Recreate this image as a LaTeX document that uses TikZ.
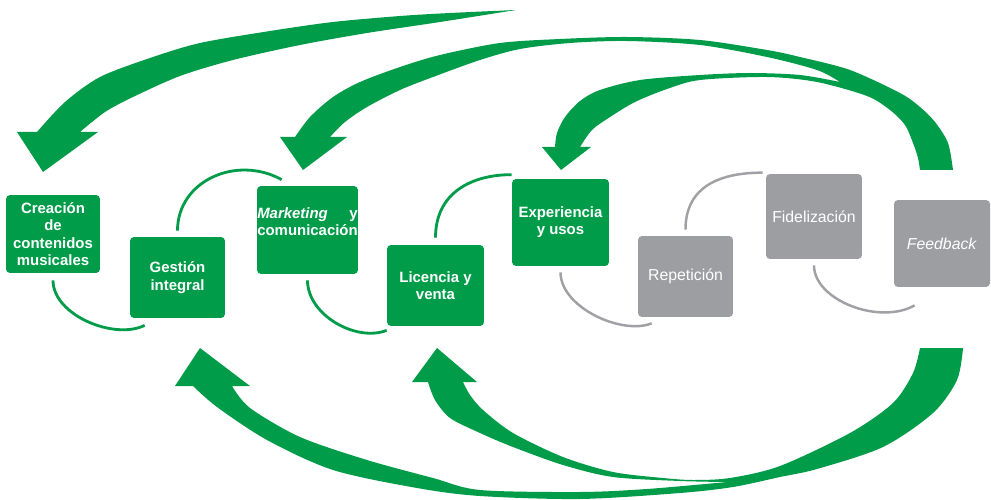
\documentclass[tikz,border=0pt]{standalone}
\usepackage{fontspec}
\setmainfont{Liberation Sans}
\usepackage{calc}
\usetikzlibrary{calc}
\definecolor{gr}{RGB}{0,156,73}
\definecolor{gy}{RGB}{157,158,162}
\definecolor{gyl}{RGB}{160,161,165}
\tikzset{
  gbox/.style={fill=gr, rounded corners=2.3pt, text=white, align=center, inner sep=0pt,
    font=\fontsize{8.5}{9.8}\selectfont\bfseries},
  ybox/.style={fill=gy, rounded corners=2.3pt, text=white, align=center, inner sep=0pt,
    font=\fontsize{9}{10.5}\selectfont},
  gline/.style={draw=gr, line width=1.6pt},
  yline/.style={draw=gyl, line width=1.4pt},
  arrowfill/.style={fill=gr},
}
\begin{document}
\begin{tikzpicture}[x=0.02cm,y=-0.02cm]
\useasboundingbox (0,0) rectangle (991,500);
\fill[white] (0,0) rectangle (991,500);

% big arrow A (top, to Creacion)
\fill[arrowfill]
 plot[smooth] coordinates {(516,10) (450,13) (400,16) (333,22) (270,31) (200,43) (150,58) (100,77) (65,102) (37,132)}
 -- (17,132) -- (43,172) -- (98,132) -- (80,132)
 -- plot[smooth] coordinates {(80,132) (105,112) (133,97) (180,76) (233,60) (300,45) (367,33) (440,22) (516,10)}
 -- cycle;

% top group from Feedback: arrows B and C
\fill[arrowfill]
 plot[smooth] coordinates {(920,170) (918,158) (913,143) (905,125) (890,110) (867,96) (817,82) (767,77) (700,80) (667,89) (635,102) (610,117) (592,130) (580,147)}
 -- (591,147) -- (561,170) -- (542,147) -- (555,147)
 -- plot[smooth] coordinates {(555,147) (557,133) (565,117) (580,101) (600,90) (640,80) (700,75) (750,73) (800,75) (840,82)}
 -- plot[smooth] coordinates {(840,82) (817,70) (767,57) (700,45) (627,41) (570,43) (520,49) (480,60) (433,77) (400,90) (367,107) (345,122) (330,137)}
 -- (347,137) -- (303,170) -- (280,137) -- (295,137)
 -- plot[smooth] coordinates {(295,137) (310,117) (333,97) (360,82) (400,67) (440,55) (500,43) (560,39) (627,37) (700,40) (767,50) (800,57) (850,70) (900,93) (920,107) (935,122) (948,143) (953,170)}
 -- cycle;

% bottom group from Feedback: arrows D and E
\fill[arrowfill]
 plot[smooth] coordinates {(920,348) (913,373) (893,403) (850,433) (780,466) (730,478) (693,480) (663,478) (613,472) (563,457) (513,433) (483,410) (470,395) (463,382)}
 -- (477,382) -- (437,348) -- (412,382) -- (428,382)
 -- plot[smooth] coordinates {(428,382) (435,400) (450,418) (480,433) (513,447) (563,465) (613,477) (680,481) (727,482)}
 -- plot[smooth] coordinates {(727,482) (647,489) (580,492) (480,490) (433,478) (367,460) (300,437) (250,408) (232,386)}
 -- (250,386) -- (200,348) -- (175,386) -- (193,386)
 -- plot[smooth] coordinates {(193,386) (217,407) (267,440) (333,470) (417,488) (480,496) (580,499) (680,493) (733,487) (780,477) (817,469) (883,447) (933,413) (957,380) (963,348)}
 -- cycle;

% boxes
\node[gbox, minimum width=1.88cm, minimum height=1.56cm] (crea) at (53,234) {Creación\\de\\contenidos\\musicales};
\node[gbox, minimum width=1.90cm, minimum height=1.62cm] (gest) at (177.5,277.5) {Gestión\\integral};
\node[gbox, minimum width=2.02cm, minimum height=1.76cm] (mark) at (307.5,230) {\makebox[\widthof{comunicación}]{\textit{Marketing}\hfill y}\\comunicación\\\mbox{}};
\node[gbox, minimum width=1.94cm, minimum height=1.62cm] (lic) at (435.5,285.5) {Licencia y\\venta};
\node[gbox, minimum width=1.94cm, minimum height=1.74cm] (exp) at (560.5,222.5) {Experiencia\\y usos};
\node[ybox, minimum width=1.90cm, minimum height=1.62cm] (rep) at (685.5,276.5) {Repetición};
\node[ybox, minimum width=1.92cm, minimum height=1.70cm] (fid) at (814,216.5) {Fidelización};
\node[ybox, minimum width=1.92cm, minimum height=1.74cm] (feed) at (942,243.5) {\textit{Feedback}};

% connectors
\draw[gline] ($(crea.south)+(0,7)$) .. controls +(0,35) and +(-30,15) .. ($(gest.south west)+(15,7)$);
\draw[gline] ($(gest.north)+(0,-6)$) .. controls +(0,-50) and +(-45,-25) .. ($(mark.north west)+(25,-6)$);
\draw[gline] ($(mark.south)+(0,6)$) .. controls +(0,35) and +(-30,12) .. ($(lic.south west)+(0,4)$);
\draw[gline] ($(lic.north)+(0,-7)$) .. controls +(0,-45) and +(-40,0) .. ($(exp.north west)+(0,-4)$);
\draw[yline] ($(exp.south)+(0,6)$) .. controls +(0,35) and +(-30,12) .. ($(rep.south west)+(14,6)$);
\draw[yline] ($(rep.north)+(0,-6)$) .. controls +(0,-45) and +(-40,0) .. ($(fid.north west)+(-3,-1)$);
\draw[yline] ($(fid.south)+(0,6)$) .. controls +(0,35) and +(-35,20) .. ($(feed.south west)+(21,18)$);
\end{tikzpicture}
\end{document}
